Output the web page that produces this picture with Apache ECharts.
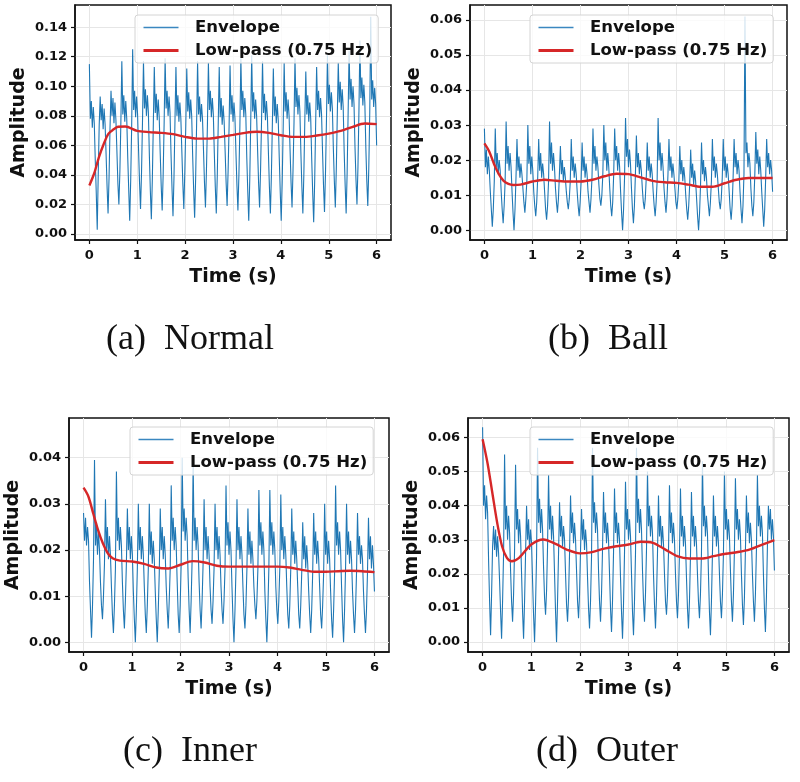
<!DOCTYPE html>
<html>
<head>
<meta charset="utf-8">
<script src="https://cdn.jsdelivr.net/npm/echarts@6/dist/echarts.min.js"></script>
<style>html,body{margin:0;padding:0;background:#fff;}#c{width:800px;height:782px;}</style>
</head>
<body>
<div id="c"></div>
<script>
// ---- data ----
const captions = ['(a)  Normal', '(b)  Ball', '(c)  Inner', '(d)  Outer'];
const seriesNames = ['Envelope', 'Low-pass (0.75 Hz)'];
const xTicks = [0, 1, 2, 3, 4, 5, 6];
const yTicksA = [0, 0.02, 0.04, 0.06, 0.08, 0.10, 0.12, 0.14];
const yTicksB = [0, 0.01, 0.02, 0.03, 0.04, 0.05, 0.06];
const yTicksC = [0, 0.01, 0.02, 0.03, 0.04];
const yTicksD = [0, 0.01, 0.02, 0.03, 0.04, 0.05, 0.06];
const duration = 6; // seconds spanned by the envelope samples

// envelope samples (evenly spaced over 0..6 s), one line per modulation cycle
const envA = [
.115,.078,.090,.072,.086,.075,.050,.028,.003,.040,.074,
.093,.077,.088,.071,.085,.074,.054,.032,.014,.038,.072,
.097,.080,.092,.075,.089,.077,.056,.034,.020,.042,.075,
.117,.081,.094,.076,.090,.078,.052,.030,.009,.036,.073,
.125,.084,.097,.079,.093,.081,.057,.035,.017,.041,.076,
.117,.085,.098,.080,.094,.082,.053,.029,.010,.037,.074,
.113,.082,.095,.077,.091,.079,.055,.033,.016,.040,.075,
.119,.085,.097,.080,.093,.082,.054,.031,.012,.038,.076,
.113,.080,.094,.076,.089,.078,.056,.034,.017,.042,.073,
.112,.083,.096,.078,.091,.080,.053,.030,.011,.037,.074,
.117,.081,.093,.076,.088,.078,.057,.035,.018,.043,.074,
.116,.084,.097,.079,.092,.081,.055,.032,.014,.039,.075,
.113,.079,.092,.074,.087,.076,.056,.035,.019,.042,.072,
.114,.081,.094,.076,.089,.078,.055,.033,.016,.040,.073,
.119,.084,.097,.079,.092,.081,.052,.029,.009,.036,.075,
.121,.083,.096,.078,.091,.080,.057,.035,.018,.043,.076,
.117,.082,.095,.077,.090,.079,.055,.032,.014,.039,.074,
.112,.080,.093,.075,.088,.077,.052,.029,.009,.035,.072,
.116,.083,.096,.078,.091,.080,.057,.035,.018,.043,.075,
.119,.086,.099,.081,.094,.083,.055,.032,.014,.040,.077,
.110,.081,.094,.076,.089,.078,.051,.028,.008,.035,.074,
.113,.084,.097,.079,.092,.081,.056,.033,.015,.041,.077,
.121,.088,.101,.083,.096,.085,.058,.036,.018,.044,.080,
.116,.089,.103,.084,.098,.086,.056,.033,.014,.041,.081,
.124,.091,.105,.086,.100,.088,.059,.037,.020,.045,.083,
.131,.092,.106,.087,.101,.089,.059,.036,.019,.044,.082,
.147,.091,.104,.086,.099,.088,.060
];
const envB = [
.029,.018,.023,.016,.021,.017,.011,.006,.001,.006,.014,
.029,.018,.022,.016,.020,.017,.011,.006,.002,.007,.014,
.031,.019,.024,.017,.022,.018,.011,.005,.000,.006,.015,
.026,.017,.021,.015,.019,.016,.012,.008,.005,.009,.014,
.030,.019,.024,.016,.021,.017,.011,.007,.004,.008,.015,
.026,.017,.022,.015,.019,.016,.011,.006,.003,.007,.014,
.031,.019,.025,.017,.022,.018,.012,.008,.005,.009,.016,
.024,.016,.020,.014,.018,.015,.011,.008,.006,.009,.014,
.026,.017,.021,.015,.019,.016,.011,.007,.004,.008,.014,
.025,.017,.021,.015,.019,.016,.011,.008,.005,.009,.015,
.029,.019,.024,.017,.021,.018,.013,.009,.007,.010,.016,
.030,.020,.025,.017,.022,.018,.012,.007,.004,.008,.016,
.029,.020,.024,.017,.022,.018,.011,.005,.000,.006,.015,
.032,.021,.026,.018,.023,.019,.012,.006,.002,.007,.016,
.027,.018,.022,.016,.020,.017,.012,.008,.006,.009,.015,
.025,.017,.021,.015,.019,.016,.011,.007,.004,.008,.014,
.032,.020,.025,.017,.022,.018,.012,.008,.005,.009,.016,
.026,.017,.021,.015,.019,.016,.012,.008,.006,.009,.014,
.024,.016,.020,.014,.018,.015,.010,.006,.003,.007,.013,
.023,.015,.019,.013,.017,.014,.009,.004,.000,.005,.013,
.025,.016,.020,.014,.018,.015,.010,.007,.004,.008,.014,
.026,.017,.021,.015,.019,.016,.012,.008,.006,.009,.015,
.026,.017,.021,.015,.019,.016,.011,.006,.003,.007,.015,
.026,.018,.022,.016,.020,.017,.011,.006,.002,.007,.016,
.061,.022,.025,.018,.022,.019,.012,.007,.004,.008,.016,
.028,.019,.023,.016,.021,.017,.011,.006,.001,.006,.015,
.026,.018,.022,.016,.020,.017,.011
];
const envC = [
.028,.022,.027,.021,.025,.022,.013,.007,.001,.008,.018,
.0395,.021,.026,.019,.024,.020,.013,.008,.005,.010,.017,
.031,.020,.025,.018,.023,.019,.012,.006,.002,.008,.016,
.037,.022,.027,.020,.025,.021,.013,.007,.003,.009,.017,
.029,.020,.025,.018,.023,.019,.011,.005,.000,.007,.016,
.030,.020,.025,.018,.023,.019,.012,.006,.002,.008,.016,
.030,.019,.024,.017,.022,.018,.011,.005,.000,.007,.015,
.029,.020,.025,.018,.023,.019,.012,.007,.003,.009,.016,
.034,.022,.027,.020,.025,.021,.013,.006,.002,.008,.017,
.040,.024,.029,.022,.027,.023,.014,.007,.002,.009,.018,
.039,.022,.027,.020,.025,.021,.013,.007,.003,.009,.017,
.031,.020,.025,.018,.023,.019,.012,.007,.004,.009,.016,
.030,.020,.025,.018,.023,.019,.012,.007,.004,.009,.016,
.034,.021,.026,.019,.024,.020,.012,.005,.000,.007,.016,
.031,.020,.025,.018,.023,.019,.012,.006,.003,.008,.016,
.029,.019,.024,.017,.022,.018,.012,.008,.005,.009,.016,
.033,.021,.026,.019,.024,.020,.011,.005,.000,.007,.016,
.033,.021,.026,.019,.024,.020,.012,.007,.004,.009,.016,
.032,.020,.025,.018,.023,.019,.012,.006,.003,.008,.016,
.029,.019,.024,.017,.022,.018,.012,.006,.003,.008,.015,
.026,.018,.023,.016,.021,.017,.011,.006,.002,.007,.015,
.028,.019,.024,.017,.022,.018,.012,.006,.003,.008,.015,
.030,.019,.024,.017,.022,.018,.011,.005,.001,.007,.015,
.034,.021,.026,.019,.024,.020,.012,.005,.000,.007,.016,
.030,.019,.024,.017,.022,.018,.011,.006,.002,.007,.015,
.028,.019,.023,.017,.021,.018,.011,.006,.002,.007,.015,
.027,.018,.023,.016,.021,.017,.011
];
const envD = [
.063,.040,.046,.036,.043,.038,.024,.012,.002,.014,.028,
.034,.027,.033,.025,.031,.026,.018,.009,.001,.012,.026,
.055,.033,.040,.030,.037,.032,.021,.012,.006,.014,.027,
.052,.033,.039,.029,.036,.031,.020,.009,.001,.012,.026,
.040,.030,.036,.027,.033,.029,.018,.008,.000,.011,.025,
.057,.035,.042,.032,.039,.033,.022,.013,.008,.015,.028,
.049,.033,.040,.030,.037,.031,.020,.009,.000,.012,.026,
.041,.031,.037,.028,.034,.030,.020,.011,.006,.013,.026,
.043,.032,.038,.029,.035,.030,.021,.012,.007,.014,.027,
.039,.030,.036,.027,.033,.029,.019,.010,.004,.012,.025,
.057,.035,.041,.032,.038,.033,.021,.012,.006,.014,.027,
.044,.032,.038,.029,.035,.030,.020,.010,.003,.012,.026,
.045,.032,.038,.029,.035,.030,.019,.009,.001,.011,.026,
.047,.033,.039,.030,.036,.031,.020,.009,.002,.012,.026,
.057,.035,.042,.032,.039,.033,.021,.012,.006,.014,.027,
.050,.034,.040,.031,.037,.032,.020,.011,.004,.013,.026,
.043,.031,.037,.028,.034,.029,.020,.012,.008,.014,.026,
.046,.032,.038,.029,.035,.030,.020,.012,.007,.014,.026,
.045,.031,.037,.028,.034,.029,.019,.010,.004,.012,.025,
.044,.031,.037,.028,.034,.029,.020,.012,.007,.014,.026,
.053,.034,.040,.031,.037,.032,.020,.009,.002,.012,.026,
.043,.031,.037,.028,.034,.029,.020,.012,.007,.014,.026,
.050,.033,.039,.030,.036,.031,.021,.012,.006,.014,.027,
.048,.033,.039,.030,.036,.031,.020,.011,.005,.013,.027,
.043,.032,.038,.029,.035,.030,.020,.012,.006,.014,.027,
.049,.034,.040,.031,.037,.032,.020,.010,.003,.013,.028,
.040,.033,.039,.030,.036,.031,.021
];

// low-pass curves, sampled at lpT
const lpT = [0,0.1,0.2,0.3,0.4,0.5,0.6,0.75,1,1.25,1.5,1.75,2,2.25,2.5,2.75,3,3.25,3.5,3.75,4,4.25,4.5,4.75,5,5.25,5.5,5.75,6];
const lpA = [0.0329,0.041,0.052,0.061,0.068,0.0707,0.0726,0.0728,0.0698,0.069,0.0685,0.0676,0.0658,0.0646,0.0646,0.0658,0.0671,0.0685,0.0692,0.0685,0.0669,0.0658,0.0658,0.0667,0.068,0.0698,0.0726,0.0748,0.0744];
const lpB = [0.0248,0.0225,0.0189,0.016,0.0141,0.0132,0.0129,0.013,0.0139,0.0144,0.0141,0.0139,0.0139,0.0144,0.0154,0.0161,0.016,0.0151,0.0141,0.0137,0.0135,0.013,0.0124,0.0124,0.0134,0.0144,0.0149,0.0149,0.0149];
const lpC = [0.0335,0.0316,0.0279,0.0243,0.0214,0.0193,0.0182,0.0177,0.0175,0.017,0.0162,0.016,0.0168,0.0176,0.0173,0.0166,0.0164,0.0164,0.0164,0.0164,0.0164,0.0162,0.0157,0.0153,0.0153,0.0154,0.0155,0.0154,0.0152];
const lpD = [0.0595,0.0526,0.0438,0.035,0.0281,0.0247,0.0237,0.0247,0.0286,0.0301,0.0288,0.027,0.026,0.0264,0.0274,0.0281,0.0286,0.0294,0.0291,0.0272,0.0252,0.0245,0.0245,0.0252,0.0259,0.0264,0.0272,0.0286,0.0299];

// ---- layout ----
const FONT = 'DejaVu Sans';
const panels = [
  {env: envA, lp: lpA, yTicks: yTicksA, ymin: -0.004, ymax: 0.155, grid: {left: 75, top: 5, width: 316, height: 235}, legend: {left: 135, top: 15}, cap: [190, 340]},
  {env: envB, lp: lpB, yTicks: yTicksB, ymin: -0.0028, ymax: 0.0643, grid: {left: 470, top: 5, width: 317, height: 235}, legend: {left: 530, top: 15}, cap: [608, 340]},
  {env: envC, lp: lpC, yTicks: yTicksC, ymin: -0.0021, ymax: 0.0486, grid: {left: 69, top: 418, width: 320, height: 234}, legend: {left: 130, top: 427}, cap: [190, 752]},
  {env: envD, lp: lpD, yTicks: yTicksD, ymin: -0.0029, ymax: 0.0657, grid: {left: 468, top: 418, width: 321, height: 234}, legend: {left: 530, top: 427}, cap: [607, 752]}
];

const grids = [], xAxes = [], yAxes = [], series = [], legends = [], graphics = [];
const hidden = {color: 'rgba(0,0,0,0)', borderWidth: 0, opacity: 0};
panels.forEach((p, i) => {
  grids.push(Object.assign({show: true, borderColor: '#111', borderWidth: 1.5, backgroundColor: '#fff'}, p.grid));
  const tickLabel = {fontFamily: FONT, fontWeight: 'bold', fontSize: 13, color: '#111'};
  xAxes.push({
    gridIndex: i, type: 'value', min: -0.3, max: 6.3,
    name: 'Time (s)', nameLocation: 'middle', nameGap: 28,
    nameTextStyle: {fontFamily: FONT, fontWeight: 'bold', fontSize: 19, color: '#111'},
    axisLine: {onZero: false, lineStyle: {color: '#111', width: 1.5}},
    axisTick: {show: true, length: 4, lineStyle: {color: '#111', width: 1.2}, customValues: xTicks},
    axisLabel: Object.assign({customValues: xTicks, margin: 9, formatter: v => String(Math.round(v))}, tickLabel),
    splitLine: {show: true, lineStyle: {color: '#e6e6e6', width: 1}}
  });
  yAxes.push({
    gridIndex: i, type: 'value', min: p.ymin, max: p.ymax,
    name: 'Amplitude', nameLocation: 'middle', nameGap: 46,
    nameTextStyle: {fontFamily: FONT, fontWeight: 'bold', fontSize: 19, color: '#111'},
    axisLine: {onZero: false, lineStyle: {color: '#111', width: 1.5}},
    axisTick: {show: true, length: 4, lineStyle: {color: '#111', width: 1.2}, customValues: p.yTicks},
    axisLabel: Object.assign({customValues: p.yTicks, margin: 8, formatter: v => v.toFixed(2)}, tickLabel),
    splitLine: {show: true, lineStyle: {color: '#e6e6e6', width: 1}}
  });
  const n = p.env.length;
  series.push({
    type: 'line', name: seriesNames[0], xAxisIndex: i, yAxisIndex: i,
    data: p.env.map((v, k) => [k * duration / (n - 1), v]),
    symbol: 'none', lineStyle: {color: '#1f77b4', width: 1.1}, itemStyle: {color: '#1f77b4'},
    z: 2, animation: false
  });
  series.push({
    type: 'line', name: seriesNames[1], xAxisIndex: i, yAxisIndex: i,
    data: lpT.map((t, k) => [t, p.lp[k]]), smooth: 0.3,
    symbol: 'none', lineStyle: {color: '#d62728', width: 2.4}, itemStyle: {color: '#d62728'},
    z: 3, animation: false
  });
  legends.push({
    left: p.legend.left, top: p.legend.top, orient: 'vertical',
    itemWidth: 35, itemHeight: 14, itemGap: 6, padding: [4, 6, 4, 7],
    backgroundColor: 'rgba(255,255,255,0.8)', borderColor: '#d4d4d4', borderWidth: 1, borderRadius: 3,
    selectedMode: false,
    formatter: name => '  ' + name,
    textStyle: {fontFamily: FONT, fontWeight: 'bold', fontSize: 16.5, color: '#111'},
    data: [
      {name: seriesNames[0], itemStyle: hidden, lineStyle: {width: 1.5, color: '#3a87c0'}},
      {name: seriesNames[1], itemStyle: hidden, lineStyle: {width: 3, color: '#d62728'}}
    ]
  });
  graphics.push({
    type: 'text', x: p.cap[0], y: p.cap[1],
    style: {text: captions[i], textAlign: 'center', textVerticalAlign: 'middle',
      font: '36px "Liberation Serif", "Times New Roman", serif', fill: '#111'}
  });
});

const chart = echarts.init(document.getElementById('c'), null, {renderer: 'canvas'});
chart.setOption({
  animation: false,
  backgroundColor: '#fff',
  grid: grids, xAxis: xAxes, yAxis: yAxes, series: series, legend: legends, graphic: graphics
});
</script>
</body>
</html>
